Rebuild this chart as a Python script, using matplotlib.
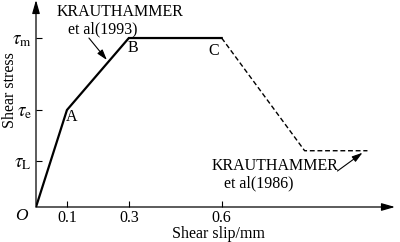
import matplotlib
matplotlib.use("Agg")
import matplotlib.pyplot as plt

# shear stress - slip model (stress in units of tau_m)
tau_m = 1.0
tau_e = 0.574
tau_L = 0.272
tau_res = 0.333

solid_x = [0, 0.1, 0.3, 0.6]
solid_y = [0, tau_e, tau_m, tau_m]
dash_x = [0.6, 0.868, 1.071]
dash_y = [tau_m, tau_res, tau_res]

x_ticks = [0.1, 0.3, 0.6]
x_labels = ["0.1", "0.3", "0.6"]
y_ticks = [tau_L, tau_e, tau_m]
y_labels = [r"$\tau_{\rm L}$", r"$\tau_{\rm e}$", r"$\tau_{\rm m}$"]

plt.rcParams["font.family"] = ["Liberation Serif", "DejaVu Serif"]
plt.rcParams["mathtext.fontset"] = "stix"
plt.rcParams["font.size"] = 11.5

fig = plt.figure(figsize=(4, 2.42), dpi=100)
ax = fig.add_axes([36 / 400, 35 / 242, 359 / 400, 207 / 242])
ax.set_xlim(0, 1.16)
ax.set_ylim(0, 1.225)
for s in ax.spines.values():
    s.set_visible(False)

# axes with arrow heads
arrow = dict(arrowstyle="-|>,head_length=0.7,head_width=0.2", color="black", lw=0.9,
             shrinkA=0, shrinkB=0)
ax.annotate("", xy=(1.16, 0), xytext=(0, 0), arrowprops=arrow, annotation_clip=False)
ax.annotate("", xy=(0, 1.225), xytext=(0, 0), arrowprops=arrow, annotation_clip=False)

ax.plot(solid_x, solid_y, color="black", lw=1.6, solid_joinstyle="miter")
ax.plot(dash_x, dash_y, color="black", lw=1.0, dashes=(3.5, 2))

ax.set_xticks(x_ticks)
ax.set_xticklabels(x_labels)
ax.set_yticks(y_ticks)
ax.set_yticklabels(y_labels)
ax.tick_params(direction="in", length=4, width=0.8, pad=3)
ax.tick_params(axis="x", pad=2)
ax.tick_params(axis="y", labelsize=13.5)

ax.set_xlabel("Shear slip/mm")
ax.xaxis.set_label_coords(0.508, -0.09)
ax.set_ylabel("Shear stress")
ax.yaxis.set_label_coords(-0.05, 0.563)

ax.text(-0.048, -0.055, "O", style="italic", ha="center", va="center", fontsize=12.5)

ax.text(0.116, 0.533, "A", ha="center", va="center")
ax.text(0.313, 0.941, "B", ha="center", va="center")
ax.text(0.574, 0.923, "C", ha="center", va="center")

ax.text(0.271, 1.154, "KRAUTHAMMER", ha="center", va="center")
ax.text(0.215, 1.053, "et al(1993)", ha="center", va="center")
ax.annotate("", xy=(0.229, 0.870), xytext=(0.171, 1.0),
            arrowprops=dict(arrowstyle="-|>,head_length=0.55,head_width=0.17",
                            color="black", lw=0.8, shrinkA=0, shrinkB=0))

ax.text(0.771, 0.243, "KRAUTHAMMER", ha="center", va="center")
ax.text(0.719, 0.142, "et al(1986)", ha="center", va="center")
ax.annotate("", xy=(1.055, 0.321), xytext=(0.974, 0.213),
            arrowprops=dict(arrowstyle="-|>,head_length=0.55,head_width=0.17",
                            color="black", lw=0.8, shrinkA=0, shrinkB=0))

fig.savefig("out.png", dpi=100)
